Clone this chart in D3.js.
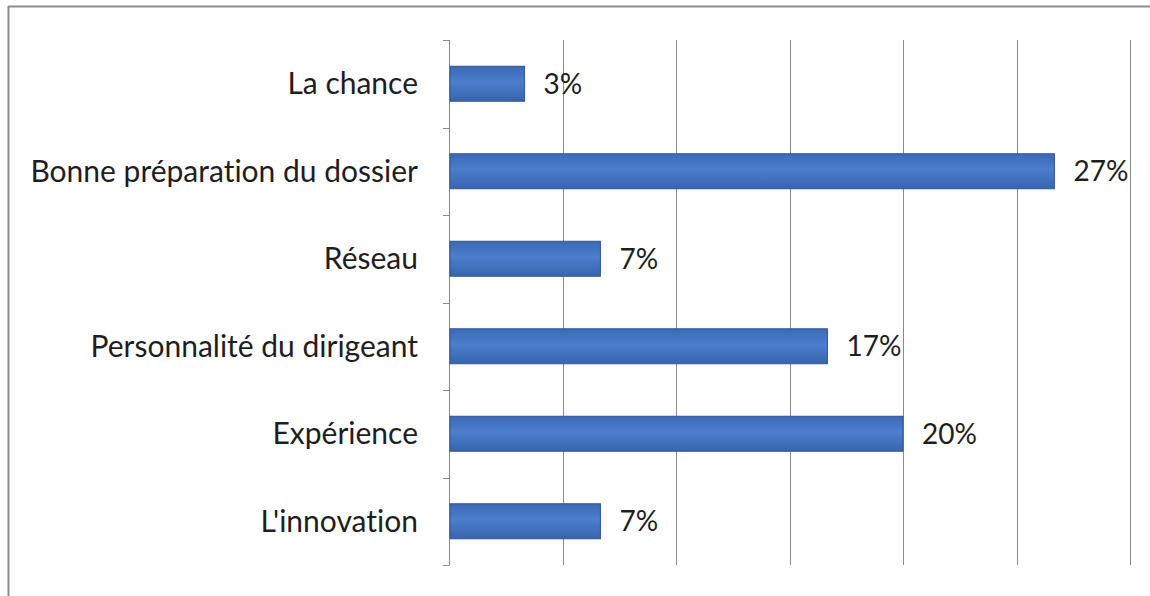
<!DOCTYPE html>
<html>
<head>
<meta charset="utf-8">
<script src="https://cdn.jsdelivr.net/npm/d3@7"></script>
<style>
  body { margin: 0; background: #fff; }
  svg { display: block; }
  text { font-variant-ligatures: none; font-feature-settings: "liga" 0; }
</style>
</head>
<body>
<div id="chart"></div>
<script>
// categories top to bottom
var categories = [
  "La chance",
  "Bonne préparation du dossier",
  "Réseau",
  "Personnalité du dirigeant",
  "Expérience",
  "L'innovation"
];
// share of answers in %, (n / 30)
var values = [3.33, 26.67, 6.67, 16.67, 20, 6.67];
var valueLabels = ["3%", "27%", "7%", "17%", "20%", "7%"];
var gridTicks = [0, 5, 10, 15, 20, 25, 30];

var W = 1150, H = 596;
var margin = {top: 40, right: 20, bottom: 31, left: 449};
var width = 1130 - margin.left,
    height = H - margin.top - margin.bottom;

var svg = d3.select("#chart")
  .append("svg")
    .attr("width", W)
    .attr("height", H);

// frame
svg.append("line")
  .attr("x1", 8).attr("x2", W).attr("y1", 6.5).attr("y2", 6.5)
  .attr("stroke", "#8c8c8c").attr("stroke-width", 2);
svg.append("line")
  .attr("x1", 8.5).attr("x2", 8.5).attr("y1", 6).attr("y2", H)
  .attr("stroke", "#8c8c8c").attr("stroke-width", 2);

var defs = svg.append("defs");
var grad = defs.append("linearGradient")
  .attr("id", "barGrad")
  .attr("x1", 0).attr("x2", 0).attr("y1", 0).attr("y2", 1);
grad.append("stop").attr("offset", "0%").attr("stop-color", "#3d69b5");
grad.append("stop").attr("offset", "45%").attr("stop-color", "#4b7ecc");
grad.append("stop").attr("offset", "100%").attr("stop-color", "#3864af");

var g = svg.append("g")
  .attr("transform", "translate(" + margin.left + "," + margin.top + ")");

var x = d3.scaleLinear()
  .domain([0, 30])
  .range([0, width]);

var y = d3.scaleBand()
  .domain(categories)
  .range([0, height])
  .paddingInner(0.6)
  .paddingOuter(0.3);

// vertical gridlines
g.selectAll(".grid")
  .data(gridTicks.slice(1))
  .enter()
  .append("line")
    .attr("class", "grid")
    .attr("x1", d => Math.round(x(d)) + 0.5)
    .attr("x2", d => Math.round(x(d)) + 0.5)
    .attr("y1", 0)
    .attr("y2", height)
    .attr("stroke", "#8a8a8a")
    .attr("stroke-width", 1);

// category axis: line + ticks between bands
var boundaries = d3.range(categories.length + 1).map(i => i * height / categories.length);
g.append("line")
  .attr("x1", 0.5).attr("x2", 0.5)
  .attr("y1", 0).attr("y2", height)
  .attr("stroke", "#8a8a8a");
g.selectAll(".ytick")
  .data(boundaries)
  .enter()
  .append("line")
    .attr("class", "ytick")
    .attr("x1", -6).attr("x2", 0.5)
    .attr("y1", d => Math.round(d) + 0.5)
    .attr("y2", d => Math.round(d) + 0.5)
    .attr("stroke", "#8a8a8a");

// bars
g.selectAll(".bar")
  .data(values)
  .enter()
  .append("rect")
    .attr("class", "bar")
    .attr("x", 1)
    .attr("y", (d, i) => y(categories[i]))
    .attr("width", d => x(d) - 1)
    .attr("height", y.bandwidth())
    .attr("fill", "url(#barGrad)")
    .attr("stroke", "#2f5597")
    .attr("stroke-width", 1);

// category labels
g.selectAll(".cat")
  .data(categories)
  .enter()
  .append("text")
    .attr("class", "cat")
    .attr("x", -31)
    .attr("y", d => y(d) + y.bandwidth() / 2)
    .attr("dy", "0.35em")
    .attr("text-anchor", "end")
    .style("font-family", "Lato, 'Open Sans', sans-serif")
    .style("font-size", "30px")
    .style("fill", "#1e1e1e")
    .text(d => d);

// value labels
g.selectAll(".val")
  .data(values)
  .enter()
  .append("text")
    .attr("class", "val")
    .attr("x", d => x(d) + 19)
    .attr("y", (d, i) => y(categories[i]) + y.bandwidth() / 2)
    .attr("dy", "0.35em")
    .style("font-family", "Lato, 'Open Sans', sans-serif")
    .style("font-size", "28px")
    .style("fill", "#1e1e1e")
    .text((d, i) => valueLabels[i]);
</script>
</body>
</html>
